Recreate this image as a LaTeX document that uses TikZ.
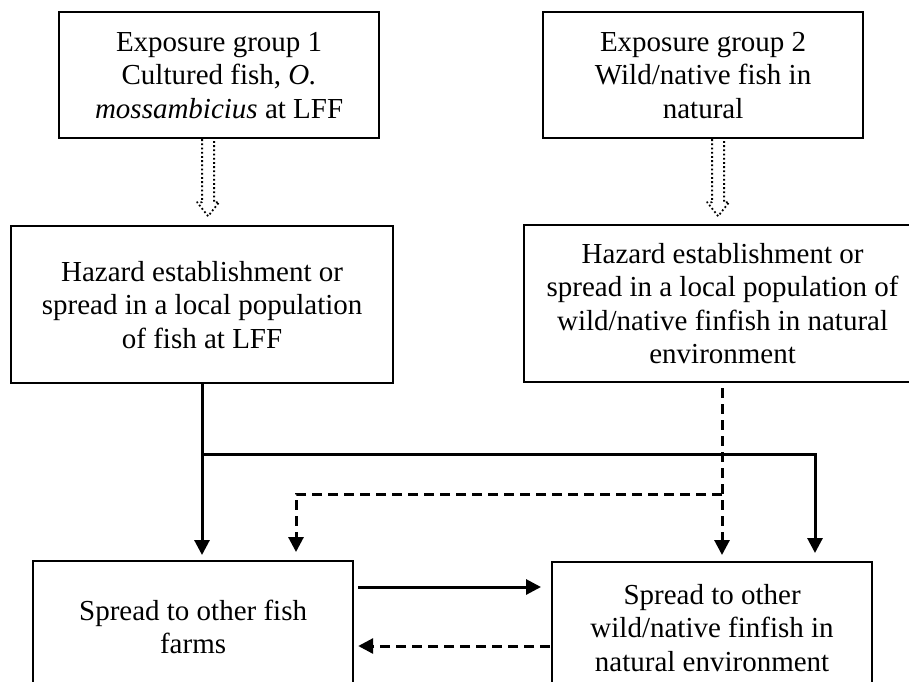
\documentclass[tikz,border=0pt]{standalone}
\usepackage{fontspec}
\setmainfont{Liberation Serif}
\usetikzlibrary{arrows.meta}
\begin{document}
\begin{tikzpicture}[x=1pt,y=-1pt,
  box/.style={draw, line width=2.2pt, inner sep=0pt, anchor=north west, align=center,
    font=\fontsize{29}{33.5}\selectfont},
  solidc/.style={line width=3pt, -{Triangle[length=15pt,width=15pt]}},
  dashc/.style={line width=3pt, dash pattern=on 10pt off 6pt, -{Triangle[length=15pt,width=15pt]}},
  solidl/.style={line width=3pt},
  dashl/.style={line width=3pt, dash pattern=on 10pt off 6pt},
  dotarrow/.style={line width=1.8pt, dash pattern=on 1.8pt off 2.4pt, line join=round}
]
\useasboundingbox (0,0) rectangle (909,681);
\fill[white] (0,0) rectangle (909,681);

\node[box, minimum width=320pt, minimum height=126pt] (g1) at (58,11)
  {Exposure group 1\\Cultured fish, \textit{O.}\\\textit{mossambicius} at LFF};
\node[box, minimum width=320pt, minimum height=126pt] (g2) at (542,11)
  {Exposure group 2\\Wild/native fish in\\natural};
\node[box, minimum width=382pt, minimum height=157pt] (h1) at (10,225)
  {Hazard establishment or\\spread in a local population\\of fish at LFF};
\node[box, minimum width=387pt, minimum height=157pt] (h2) at (523,224)
  {\hspace*{10pt}Hazard establishment or\\\hspace*{10pt}spread in a local population of\\\hspace*{10pt}wild/native finfish in natural\\\hspace*{10pt}environment};
\node[box, minimum width=320pt, minimum height=132pt] (s1) at (32,560)
  {Spread to other fish\\farms};
\node[box, minimum width=320pt, minimum height=131pt] (s2) at (551,561)
  {Spread to other\\wild/native finfish in\\natural environment};

% hollow dotted arrows
\path (g1.south) ++(-11,0) coordinate (da1);
\path (g2.south) ++(15,0) coordinate (da2);
\draw[dotarrow] (da1) ++(-6,0) -- ++(0,63) -- ++(-5,0) -- ++(11,14) -- ++(11,-14) -- ++(-5,0) -- ++(0,-63);
\draw[dotarrow] (da2) ++(-6,0) -- ++(0,63) -- ++(-5,0) -- ++(11,14) -- ++(11,-14) -- ++(-5,0) -- ++(0,-63);

% junction coordinates
\coordinate (j1) at (202,454);
\coordinate (j2) at (815,454);
\coordinate (j3) at (722,494);
\coordinate (j4) at (296,494);
\coordinate (y1) at (0,587);
\coordinate (y2) at (0,646);

% solid from LFF population
\draw[solidc, shorten >=5pt] (h1.south -| j1) -- (s1.north -| j1);
\draw[solidc, shorten >=8pt] (j1) -- (j2) -- (s2.north -| j2);

% dashed from wild population
\draw[dashc, shorten <=5pt, shorten >=6pt] (h2.south -| j3) -- (s2.north -| j3);
\draw[dashc, shorten >=8pt] (j3) -- (j4) -- (s1.north -| j4);

% horizontal arrows between bottom boxes
\draw[solidc, shorten <=4pt, shorten >=10pt] (s1.east |- y1) -- (s2.west |- y1);
\draw[dashc, shorten <=1pt, shorten >=4pt] (s2.west |- y2) -- (s1.east |- y2);
\end{tikzpicture}
\end{document}
